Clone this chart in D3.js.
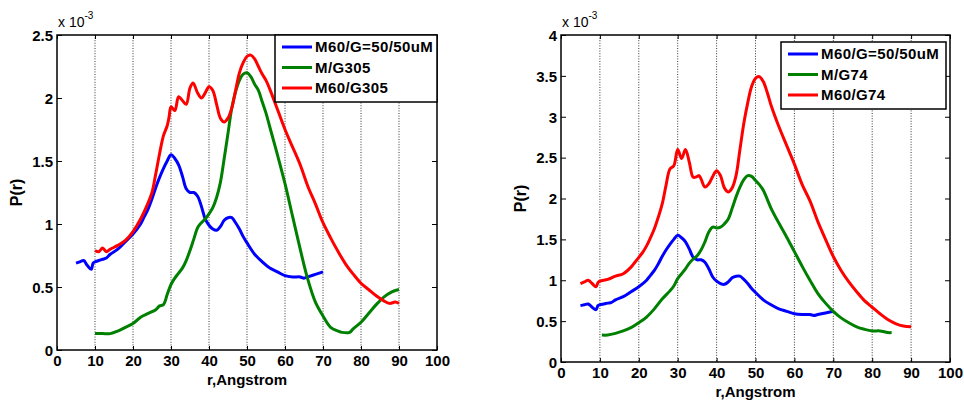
<!DOCTYPE html>
<html>
<head>
<meta charset="utf-8">
<script src="https://cdn.jsdelivr.net/npm/d3@7"></script>
<style>
  body { margin: 0; background: #fff; }
  svg { font-family: "Liberation Sans", Arial, sans-serif; }
  .tick text { font-size: 15px; font-weight: bold; }
</style>
</head>
<body>
<svg id="chart" width="964" height="400"></svg>
<script>
// P(r) values, units of 1e-3, r in Angstrom
const blueMG = [[5,0.69],[6,0.70],[7,0.71],[8,0.67],[9,0.64],[9.5,0.69],[10,0.70],[11,0.71],[12,0.72],[13,0.73],[14,0.76],[16,0.80],[18,0.86],[20,0.92],[22,1.00],[23,1.06],[24,1.12],[25,1.20],[26,1.29],[27,1.37],[28,1.44],[29,1.50],[30,1.55],[31,1.52],[32,1.47],[33,1.38],[34,1.28],[35,1.25],[36,1.25],[37,1.22],[38,1.14],[39,1.04],[40,0.99],[41,0.96],[42,0.95],[43,0.98],[44,1.03],[45,1.05],[46,1.05],[47,1.01],[48,0.96],[49,0.90],[50,0.85],[52,0.76],[54,0.70],[56,0.65],[58,0.62],[60,0.59],[62,0.58],[64,0.58],[65,0.57],[66,0.58],[68,0.60],[70,0.62]];

const greenG305 = [[10,0.13],[12,0.13],[14,0.13],[16,0.15],[18,0.18],[20,0.21],[22,0.26],[24,0.29],[26,0.32],[27,0.35],[28,0.36],[29,0.44],[30,0.52],[31,0.57],[32,0.61],[33,0.65],[34,0.71],[35,0.79],[36,0.88],[37,0.97],[38,1.01],[39,1.04],[40,1.08],[41,1.13],[42,1.21],[43,1.33],[44,1.52],[45,1.72],[46,1.92],[47,2.05],[48,2.14],[49,2.19],[50,2.20],[51,2.17],[52,2.11],[53,2.06],[54,1.97],[55,1.88],[56,1.77],[58,1.55],[60,1.32],[62,1.06],[64,0.80],[66,0.56],[68,0.38],[70,0.27],[72,0.18],[74,0.15],[75,0.14],[77,0.14],[78,0.17],[80,0.22],[82,0.29],[84,0.36],[86,0.42],[88,0.46],[90,0.48]];

const redG305 = [[10,0.79],[11,0.78],[12,0.81],[13,0.78],[14,0.80],[16,0.83],[18,0.87],[20,0.94],[22,1.04],[24,1.17],[25,1.25],[26,1.40],[27,1.56],[28,1.70],[29,1.78],[29.5,1.85],[30,1.93],[31,1.90],[32,2.01],[33,1.98],[34,1.95],[35,2.08],[35.8,2.12],[37,2.04],[38,2.00],[39,2.04],[40,2.09],[41,2.06],[42,1.95],[43,1.84],[44,1.81],[45,1.84],[46,1.92],[47,2.06],[48,2.20],[49,2.28],[50,2.33],[51,2.34],[52,2.31],[53,2.25],[54,2.19],[55,2.14],[56,2.07],[58,1.91],[60,1.75],[62,1.61],[64,1.47],[66,1.30],[68,1.16],[70,1.01],[72,0.89],[74,0.78],[76,0.68],[78,0.60],[80,0.53],[82,0.48],[84,0.43],[86,0.39],[87.5,0.37],[89,0.38],[90,0.37]];

const greenG74 = [[10.5,0.33],[12,0.33],[14,0.35],[16,0.38],[18,0.42],[20,0.48],[22,0.55],[24,0.65],[26,0.77],[28,0.87],[29,0.93],[30,1.02],[31,1.08],[32,1.14],[33,1.21],[34,1.26],[35,1.30],[36,1.37],[37,1.47],[38,1.59],[39,1.65],[40,1.64],[41,1.65],[42,1.69],[43,1.75],[44,1.88],[45,2.02],[46,2.14],[47,2.23],[48,2.28],[49,2.27],[50,2.22],[51,2.17],[52,2.10],[54,1.88],[56,1.70],[58,1.53],[60,1.35],[62,1.17],[64,1.00],[66,0.84],[68,0.72],[70,0.62],[72,0.54],[74,0.48],[76,0.43],[78,0.40],[80,0.38],[82,0.38],[84,0.36],[85,0.36]];

const redG74 = [[5,0.96],[6,0.98],[7,1.00],[8,0.96],[9,0.92],[9.5,0.97],[10,0.99],[12,1.01],[14,1.05],[16,1.08],[18,1.16],[19,1.22],[20,1.28],[21,1.34],[22,1.42],[23,1.52],[24,1.63],[25,1.77],[26,1.93],[27,2.16],[28,2.36],[29,2.40],[30,2.60],[31,2.49],[32,2.60],[33,2.44],[34,2.26],[35,2.27],[35.5,2.28],[36,2.24],[37,2.14],[38,2.18],[39,2.27],[40,2.34],[41,2.28],[42,2.13],[43,2.08],[44,2.13],[45,2.28],[46,2.60],[47,2.92],[48,3.17],[49,3.37],[50,3.47],[51,3.49],[52,3.43],[53,3.30],[54,3.14],[56,2.88],[58,2.65],[60,2.42],[62,2.17],[64,1.97],[66,1.72],[68,1.50],[70,1.29],[72,1.12],[74,0.98],[76,0.86],[78,0.75],[80,0.67],[82,0.59],[84,0.52],[86,0.47],[88,0.44],[90,0.43]];

const xTicks = [0, 10, 20, 30, 40, 50, 60, 70, 80, 90, 100];
const yTicksLeft = [0, 0.5, 1, 1.5, 2, 2.5];
const yTicksRight = [0, 0.5, 1, 1.5, 2, 2.5, 3, 3.5, 4];
const namesLeft = ["M60/G=50/50uM", "M/G305", "M60/G305"];
const namesRight = ["M60/G=50/50uM", "M/G74", "M60/G74"];
const colors = ["#0000ff", "#008000", "#ff0000"];

const svg = d3.select("#chart");

const panels = [
  { x0: 57, x1: 437, y0: 35, y1: 350, ymax: 2.5, yTicks: yTicksLeft,
    series: [blueMG, greenG305, redG305], names: namesLeft,
    legend: { x: 275, y: 35, w: 162, h: 67 } },
  { x0: 561, x1: 950, y0: 35, y1: 362, ymax: 4, yTicks: yTicksRight,
    series: [blueMG, greenG74, redG74], names: namesRight,
    legend: { x: 781, y: 42, w: 165, h: 67 } }
];

panels.forEach(p => {
  const x = d3.scaleLinear().domain([0, 100]).range([p.x0, p.x1]);
  const y = d3.scaleLinear().domain([0, p.ymax]).range([p.y1, p.y0]);
  const g = svg.append("g");

  // vertical dotted grid
  g.append("g").selectAll("line")
    .data(xTicks.filter(d => d > 0 && d < 100))
    .join("line")
    .attr("x1", d => x(d)).attr("x2", d => x(d))
    .attr("y1", p.y0).attr("y2", p.y1)
    .attr("stroke", "#222").attr("stroke-width", 0.9)
    .attr("stroke-dasharray", "1,1.6");

  // axes
  const xAxis = g.append("g").attr("transform", `translate(0,${p.y1})`)
    .call(d3.axisBottom(x).tickValues(xTicks).tickFormat(d3.format("d")).tickSizeInner(-4).tickSizeOuter(0).tickPadding(5));
  const yAxis = g.append("g").attr("transform", `translate(${p.x0},0)`)
    .call(d3.axisLeft(y).tickValues(p.yTicks).tickFormat(d => d3.format("")(d)).tickSizeInner(-5).tickSizeOuter(0).tickPadding(4));
  g.append("g").attr("transform", `translate(${p.x1},0)`)
    .call(d3.axisRight(y).tickValues(p.yTicks).tickFormat("").tickSizeInner(-5).tickSizeOuter(0));
  g.append("g").attr("transform", `translate(0,${p.y0})`)
    .call(d3.axisTop(x).tickValues(xTicks).tickFormat("").tickSizeInner(-4).tickSizeOuter(0));
  g.selectAll(".domain").remove();
  g.selectAll(".tick line").attr("stroke", "#000");
  xAxis.selectAll("text").attr("fill", "#000");
  yAxis.selectAll("text").attr("fill", "#000").attr("dy", "0.35em");

  // data lines
  const line = d3.line().x(d => x(d[0])).y(d => y(d[1])).curve(d3.curveCatmullRom);
  g.append("g").selectAll("path")
    .data(p.series)
    .join("path")
    .attr("d", line)
    .attr("fill", "none")
    .attr("stroke", (d, i) => colors[i])
    .attr("stroke-width", 3)
    .attr("stroke-linejoin", "round");

  // box
  g.append("rect")
    .attr("x", p.x0).attr("y", p.y0)
    .attr("width", p.x1 - p.x0).attr("height", p.y1 - p.y0)
    .attr("fill", "none").attr("stroke", "#000").attr("stroke-width", 1.5);

  // exponent label
  const ex = g.append("text").attr("x", p.x0 + 1).attr("y", p.y0 - 8)
    .attr("font-size", 14);
  ex.append("tspan").text("x 10");
  ex.append("tspan").attr("font-size", 10).attr("dy", -8).text("-3");

  // axis titles
  g.append("text")
    .attr("x", (p.x0 + p.x1) / 2).attr("y", p.y1 + 35)
    .attr("text-anchor", "middle").attr("font-size", 15).attr("font-weight", "bold")
    .text("r,Angstrom");
  g.append("text")
    .attr("transform", `translate(${p.x0 - 35},${(p.y0 + p.y1) / 2}) rotate(-90)`)
    .attr("text-anchor", "middle").attr("font-size", 16).attr("font-weight", "bold")
    .text("P(r)");

  // legend
  const L = p.legend;
  const lg = g.append("g").attr("transform", `translate(${L.x},${L.y})`);
  lg.append("rect").attr("width", L.w).attr("height", L.h)
    .attr("fill", "#fff").attr("stroke", "#000").attr("stroke-width", 1.5);
  const row = lg.selectAll("g.row").data(p.names).join("g")
    .attr("class", "row")
    .attr("transform", (d, i) => `translate(0,${12 + i * 20.5})`);
  row.append("line").attr("x1", 7).attr("x2", 37)
    .attr("stroke", (d, i) => colors[i]).attr("stroke-width", 3);
  row.append("text").attr("x", 40).attr("dy", "0.36em")
    .attr("font-size", 15).attr("font-weight", "bold").attr("letter-spacing", 0.4)
    .text(d => d);
});
</script>
</body>
</html>
